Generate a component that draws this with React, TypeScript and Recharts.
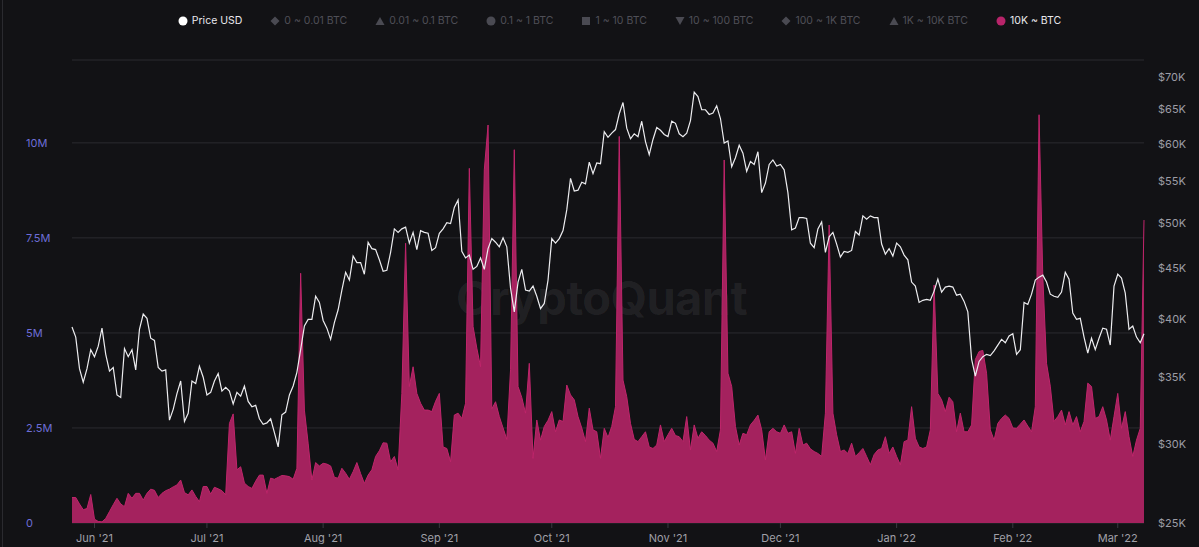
import { Area, CartesianGrid, ComposedChart, Line, XAxis, YAxis } from "recharts";

// BTC price (USD thousands), daily from 2021-05-26 to 2022-03-08
const priceUsdK = [
  39.3, 38.4, 35.7, 34.6, 35.7, 37.3,
  36.7, 37.6, 39.2, 36.9, 35.5, 35.8, 33.6, 33.4, 37.4, 36.7,
  37.3, 35.6, 39.1, 40.5, 40.1, 38.3, 38.1, 35.8, 35.5, 35.6,
  31.7, 32.5, 33.7, 34.7, 31.6, 32.2, 34.7, 34.5, 35.9, 35.0,
  33.6, 33.8, 34.7, 35.3, 33.9, 34.2, 33.9, 32.9, 33.8, 33.5,
  34.3, 33.1, 32.7, 32.8, 31.8, 31.4, 31.5, 31.8, 30.8, 29.8,
  32.1, 32.3, 33.6, 34.3, 35.4, 37.3, 39.4, 40.0, 40.0, 42.2, 41.6,
  39.9, 39.2, 38.2, 39.7, 40.9, 42.8, 44.6, 43.8, 46.3, 45.6,
  45.6, 44.4, 47.8, 47.1, 47.0, 45.9, 44.7, 44.8, 46.7, 49.3,
  48.9, 49.3, 49.5, 47.7, 48.9, 47.0, 49.1, 48.9, 48.8, 46.9, 47.2,
  48.8, 49.3, 50.0, 49.9, 51.8, 52.7, 46.8, 46.1, 46.4, 44.9,
  45.2, 46.1, 44.9, 47.1, 48.2, 47.8, 47.3, 48.3, 47.3, 43.0,
  40.7, 43.6, 44.9, 42.8, 42.7, 43.2, 42.2, 41.0, 41.5, 43.8,
  48.2, 47.7, 48.2, 49.1, 51.5, 55.4, 53.8, 53.9, 54.9, 54.7,
  57.5, 56.0, 57.4, 57.3, 61.7, 60.9, 61.5, 62.0, 64.3, 66.0,
  62.2, 60.7, 61.4, 61.0, 63.2, 60.3, 58.5, 60.6, 62.3, 61.9, 61.3,
  61.0, 63.2, 62.9, 61.4, 61.0, 61.5, 63.3, 67.6, 66.9, 64.9,
  64.9, 64.2, 64.4, 65.5, 63.6, 60.1, 60.4, 56.9, 58.1, 59.8,
  58.7, 56.3, 57.6, 57.2, 58.9, 53.6, 54.8, 57.2, 57.8, 57.0,
  57.2, 56.5, 53.6, 49.2, 49.4, 50.6, 50.6, 50.5, 47.7, 47.2,
  49.3, 50.1, 46.7, 48.4, 48.9, 47.6, 46.2, 46.8, 46.7, 46.9,
  49.0, 48.6, 50.8, 50.4, 50.8, 50.6, 50.6, 47.6, 46.5, 47.1, 46.3,
  47.7, 47.3, 46.4, 45.9, 43.6, 43.2, 41.6, 41.8, 41.9, 41.8,
  42.7, 43.9, 42.6, 43.1, 43.2, 43.1, 42.3, 42.4, 41.7, 40.7,
  36.5, 35.1, 36.3, 36.7, 36.9, 36.8, 37.2, 37.7, 38.2, 37.9, 38.5,
  38.7, 36.9, 37.3, 41.6, 41.4, 42.4, 43.8, 44.1, 44.3, 43.6,
  42.4, 42.2, 42.1, 42.6, 44.6, 43.9, 40.6, 40.0, 40.1, 38.4,
  37.0, 38.3, 37.3, 38.3, 39.2, 39.1, 37.7, 43.2,
  44.4, 44.0, 42.5, 39.1, 39.4, 38.4, 37.9, 38.7,
];

// exchange inflow from 10K+ BTC transactions (millions), same days
const whaleVolumeM = [
  0.67, 0.67, 0.5, 0.35, 0.38, 0.75, 0.1, 0.04, 0.03, 0.12,
  0.3, 0.48, 0.65, 0.5, 0.43, 0.78, 0.65, 0.78, 0.78, 0.6,
  0.78, 0.89, 0.86, 0.67, 0.78, 0.85, 0.89, 0.95, 1.0, 1.13,
  0.8, 0.74, 0.87, 0.7, 0.56, 0.96, 0.96, 0.76, 0.94, 0.9,
  0.85, 0.74, 2.62, 2.87, 1.4, 1.48, 1.05, 0.96, 0.91, 1.1,
  1.26, 1.26, 0.78, 1.18, 1.15, 1.2, 1.25, 1.24, 1.22, 1.15,
  1.44, 6.57, 2.97, 2.1, 1.13, 1.59, 1.5, 1.57, 1.55, 1.5,
  1.2, 1.18, 1.44, 1.31, 1.15, 1.35, 1.59, 1.3, 1.04, 1.26,
  1.4, 1.75, 1.9, 2.11, 2.1, 1.61, 1.75, 1.4, 3.41, 7.36,
  3.59, 4.11, 3.41, 3.15, 2.97, 2.97, 2.93, 3.2, 3.41, 2.0,
  1.96, 1.61, 2.84, 2.89, 2.75, 3.15, 9.33, 5.17, 4.6, 4.11,
  9.29, 10.47, 3.0, 3.19, 2.8, 2.5, 2.2, 4.03, 9.82, 3.59,
  3.3, 2.89, 4.2, 1.7, 2.71, 2.18, 2.54, 2.7, 2.93, 2.4,
  2.71, 2.67, 3.63, 3.37, 3.24, 2.8, 2.5, 2.14, 3.02, 2.45,
  2.4, 1.7, 2.49, 2.25, 2.54, 3.06, 10.17, 3.76, 3.32, 2.62,
  2.2, 2.14, 2.27, 2.4, 2.0, 1.96, 2.05, 2.58, 2.14, 2.32,
  2.49, 2.3, 2.27, 2.14, 2.8, 1.92, 2.58, 2.23, 2.4, 2.3,
  2.18, 2.1, 1.88, 2.45, 9.55, 3.94, 3.59, 2.54, 2.05, 2.36,
  2.32, 2.58, 2.7, 2.84, 2.45, 1.66, 2.4, 2.49, 2.4, 2.36,
  2.58, 2.36, 2.4, 1.83, 2.49, 2.05, 2.1, 1.95, 1.88, 1.83,
  1.75, 2.89, 7.84, 2.89, 2.32, 1.88, 1.92, 1.83, 2.1, 1.75,
  1.85, 1.96, 1.75, 1.53, 1.8, 1.92, 1.96, 2.27, 1.83, 2.0,
  1.75, 1.53, 2.14, 2.18, 3.06, 2.23, 2.0, 1.96, 2.0, 2.45,
  6.26, 3.41, 3.24, 2.93, 3.31, 3.19, 2.4, 2.89, 2.4, 2.4,
  2.58, 4.3, 4.51, 4.54, 3.94, 2.45, 2.18, 2.62, 2.75, 2.84,
  2.75, 2.5, 2.49, 2.6, 2.71, 2.55, 2.4, 3.06, 10.74, 6.48,
  4.2, 3.6, 2.67, 2.8, 2.97, 2.58, 2.93, 2.58, 2.8, 2.4,
  2.67, 3.68, 3.59, 2.75, 2.8, 3.06, 2.71, 2.18, 2.8, 3.41,
  2.49, 2.93, 2.27, 1.75, 2.18, 2.49, 7.97,
];

const monthTicks = [
  "2021-06-01", "2021-07-01", "2021-08-01", "2021-09-01", "2021-10-01",
  "2021-11-01", "2021-12-01", "2022-01-01", "2022-02-01", "2022-03-01",
];
const monthLabels = [
  "Jun '21", "Jul '21", "Aug '21", "Sep '21", "Oct '21",
  "Nov '21", "Dec '21", "Jan '22", "Feb '22", "Mar '22",
];

const volumeTicks = [0, 2.5, 5, 7.5, 10];
const volumeLabels = ["0", "2.5M", "5M", "7.5M", "10M"];
const priceTicks = [25, 30, 35, 40, 45, 50, 55, 60, 65, 70];

const legendItems = [
  { label: "Price USD", shape: "circle", active: true },
  { label: "0 ~ 0.01 BTC", shape: "diamond", active: false },
  { label: "0.01 ~ 0.1 BTC", shape: "triangle", active: false },
  { label: "0.1 ~ 1 BTC", shape: "circle", active: false },
  { label: "1 ~ 10 BTC", shape: "square", active: false },
  { label: "10 ~ 100 BTC", shape: "triangleDown", active: false },
  { label: "100 ~ 1K BTC", shape: "diamond", active: false },
  { label: "1K ~ 10K BTC", shape: "triangle", active: false },
  { label: "10K ~ BTC", shape: "circle", active: true },
];

const startDay = Date.UTC(2021, 4, 26);
const data = priceUsdK.map((p, i) => ({
  date: new Date(startDay + i * 86400000).toISOString().slice(0, 10),
  price: p,
  whale: whaleVolumeM[i],
}));

const FONT = "Inter, 'Noto Sans', sans-serif";

function LegendIcon({ shape, color }: { shape: string; color: string }) {
  return (
    <svg width={10} height={10} style={{ marginRight: 4 }}>
      {shape === "circle" && <circle cx={5} cy={5} r={4.5} fill={color} />}
      {shape === "square" && <rect x={1} y={1} width={8} height={8} fill={color} />}
      {shape === "diamond" && <path d="M5 0.5 L9.5 5 L5 9.5 L0.5 5 Z" fill={color} />}
      {shape === "triangle" && <path d="M5 1 L9.5 9 L0.5 9 Z" fill={color} />}
      {shape === "triangleDown" && <path d="M0.5 1 L9.5 1 L5 9 Z" fill={color} />}
    </svg>
  );
}

function VolumeTick(props: any) {
  const { y, payload } = props;
  return (
    <text x={26} y={y} dy={4} fill="#6d6dd6" fontSize={11} fontFamily={FONT} textAnchor="start">
      {volumeLabels[volumeTicks.indexOf(payload.value)]}
    </text>
  );
}

function PriceTick(props: any) {
  const { y, payload } = props;
  return (
    <text x={1158} y={y} dy={4} fill="#9d9da5" fontSize={11} fontFamily={FONT} textAnchor="start">
      {`$${payload.value}K`}
    </text>
  );
}

export default function App() {
  return (
    <div
      style={{
        position: "absolute",
        left: 0,
        top: 0,
        width: 1199,
        height: 547,
        background: "#121215",
        overflow: "hidden",
        fontFamily: FONT,
      }}
    >
      <div style={{ position: "absolute", left: 2, top: 0, width: 1, height: 547, background: "#2a2a2f" }} />

      {/* legend */}
      <div
        style={{
          position: "absolute",
          top: 14,
          left: 20,
          width: 1199,
          display: "flex",
          justifyContent: "center",
          gap: 28,
          fontSize: 10.5,
        }}
      >
        {legendItems.map((item, i) => (
          <div key={i} style={{ display: "flex", alignItems: "center", color: item.active ? "#e8e8ec" : "#4f4f57" }}>
            <LegendIcon
              shape={item.shape}
              color={item.active ? (item.label === "10K ~ BTC" ? "#b8246a" : "#ffffff") : "#4a4a52"}
            />
            {item.label}
          </div>
        ))}
      </div>

      {/* watermark */}
      <div
        style={{
          position: "absolute",
          left: 456,
          top: 269,
          fontSize: 47,
          fontWeight: 700,
          letterSpacing: -0.6,
          color: "rgba(255,255,255,0.07)",
        }}
      >
        CryptoQuant
      </div>

      <div style={{ position: "absolute", left: 0, top: 0 }}>
        <ComposedChart width={1199} height={547} data={data} margin={{ top: 60, right: 0, bottom: 0, left: 0 }}>
          <CartesianGrid yAxisId="left" vertical={false} stroke="#2b2b30" />
          <XAxis
            dataKey="date"
            scale="point"
            padding={{ left: 0, right: 0 }}
            ticks={monthTicks}
            interval={0}
            tickFormatter={(v) => monthLabels[monthTicks.indexOf(v)]}
            axisLine={false}
            tickLine={{ stroke: "#3a3a40" }}
            tickSize={5}
            tickMargin={6}
            height={24}
            tick={{ fill: "#a0a0a8", fontSize: 11, fontFamily: FONT }}
          />
          <YAxis
            yAxisId="left"
            orientation="left"
            width={72}
            domain={[0, 12.18]}
            ticks={volumeTicks}
            interval={0}
            axisLine={false}
            tickLine={false}
            tick={<VolumeTick />}
          />
          <YAxis
            yAxisId="right"
            orientation="right"
            width={55}
            scale="log"
            domain={[25, 72.8]}
            allowDataOverflow
            ticks={priceTicks}
            interval={0}
            axisLine={false}
            tickLine={false}
            tick={<PriceTick />}
          />
          <Area
            yAxisId="left"
            dataKey="whale"
            type="linear"
            fill="#a4225e"
            fillOpacity={1}
            stroke="#bf256b"
            strokeWidth={1}
            isAnimationActive={false}
          />
          <Line
            yAxisId="right"
            dataKey="price"
            type="linear"
            stroke="#ededf0"
            strokeWidth={1.2}
            dot={false}
            isAnimationActive={false}
          />
        </ComposedChart>
      </div>
    </div>
  );
}
